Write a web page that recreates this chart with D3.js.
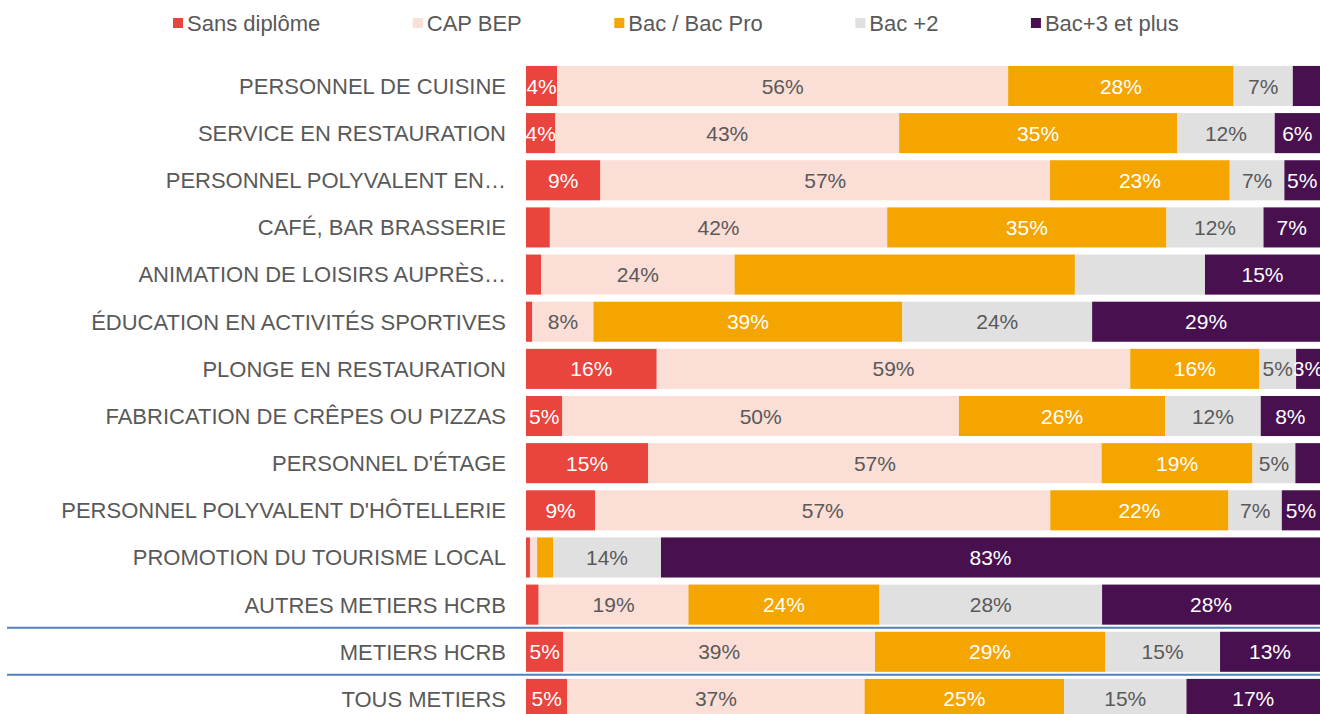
<!DOCTYPE html>
<html>
<head>
<meta charset="utf-8">
<script src="https://cdn.jsdelivr.net/npm/d3@7"></script>
<style>
  html,body{margin:0;padding:0;background:#fff;}
  svg{display:block;font-family:"Liberation Sans",Arial,sans-serif;}
</style>
</head>
<body>
<div id="chart"></div>
<script>
// 100% stacked bars — niveau de diplôme par métier
const categories = [
  'PERSONNEL DE CUISINE',
  'SERVICE EN RESTAURATION',
  'PERSONNEL POLYVALENT EN…',
  'CAFÉ, BAR BRASSERIE',
  'ANIMATION DE LOISIRS AUPRÈS…',
  'ÉDUCATION EN ACTIVITÉS SPORTIVES',
  'PLONGE EN RESTAURATION',
  'FABRICATION DE CRÊPES OU PIZZAS',
  "PERSONNEL D'ÉTAGE",
  "PERSONNEL POLYVALENT D'HÔTELLERIE",
  'PROMOTION DU TOURISME LOCAL',
  'AUTRES METIERS HCRB',
  'METIERS HCRB',
  'TOUS METIERS'
];
const seriesNames = ['Sans diplôme', 'CAP BEP', 'Bac / Bac Pro', 'Bac +2', 'Bac+3 et plus'];
const sansDiplome = [3.9, 3.7, 9.4, 3.0, 1.9, 0.8, 16.4, 4.6, 15.4, 8.7, 0.5, 1.6, 4.7, 5.2];
const capBep      = [56.4, 43.3, 56.8, 42.4, 24.4, 7.7, 59.4, 50.2, 57.1, 57.2, 0.9, 18.9, 39.3, 37.4];
const bacPro      = [28.2, 35.0, 22.7, 35.1, 42.9, 38.9, 16.2, 26.1, 19.0, 22.4, 2.0, 24.1, 29.0, 25.1];
const bac2        = [7.4, 12.3, 6.9, 12.2, 16.4, 23.9, 4.6, 12.1, 5.4, 6.7, 13.6, 28.1, 14.5, 15.4];
const bac3        = [3.4, 5.7, 4.5, 7.1, 14.5, 28.7, 3.0, 7.5, 3.1, 4.8, 83.0, 27.5, 12.6, 16.8];
// segments whose label is not shown [row, series]
const hiddenLabels = [[0,4],[3,0],[4,0],[4,2],[4,3],[5,0],[8,4],[10,0],[10,1],[10,2],[11,0]];
// separators drawn above these rows
const separatorsBefore = ['METIERS HCRB', 'TOUS METIERS'];

const colors = ['#E9443E', '#FBDED6', '#F5A500', '#E0E0E0', '#48104F'];
const labelColors = ['#fff', '#595959', '#fff', '#595959', '#fff'];

(function() {
  const W = 1320, H = 714;
  const m = {left:526, right:0};
  const cols = [sansDiplome, capBep, bacPro, bac2, bac3];
  const rows = categories.map((c,i)=>{
    const r = {cat:c};
    seriesNames.forEach((s,j)=>{ r[s] = cols[j][i]; });
    return r;
  });

  const stack = d3.stack().keys(seriesNames).offset(d3.stackOffsetExpand);
  const layers = stack(rows);

  const x = d3.scaleLinear().domain([0,1]).range([m.left, W-m.right]);
  const y = d3.scaleBand().domain(categories).range([62.4, 722.5]).paddingInner(0.15).paddingOuter(0.075);

  const svg = d3.select('#chart').append('svg').attr('width',W).attr('height',H).attr('viewBox',`0 0 ${W} ${H}`);

  const hidden = new Set(hiddenLabels.map(d=>d[0]+'_'+d[1]));

  // Bars
  layers.forEach((layer,si)=>{
    const g = svg.append('g');
    g.selectAll('rect').data(layer).join('rect')
      .attr('x',d=>x(d[0])).attr('width',d=>x(d[1])-x(d[0]))
      .attr('y',d=>y(d.data.cat)).attr('height',y.bandwidth())
      .attr('fill',colors[si]);
    g.selectAll('text').data(layer.map((d,i)=>({d,i}))
        .filter(o=>!hidden.has(o.i+'_'+si)))
      .join('text')
      .attr('x',o=>(x(o.d[0])+x(o.d[1]))/2)
      .attr('y',o=>y(o.d.data.cat)+y.bandwidth()/2)
      .attr('dy','0.36em').attr('text-anchor','middle')
      .style('font-size','21px').style('fill',labelColors[si])
      .text(o=>Math.round(o.d.data[seriesNames[si]])+'%');
  });

  // Category labels
  svg.append('g').selectAll('text').data(categories).join('text')
    .attr('x',m.left-20).attr('y',d=>y(d)+y.bandwidth()/2).attr('dy','0.36em')
    .attr('text-anchor','end').style('font-size','22px').style('fill','#595959')
    .text(d=>d);

  // Separators
  const gap = y.step()-y.bandwidth();
  separatorsBefore.forEach(c=>{
    const yy = y(c) - gap/2 - 0.5;
    svg.append('line').attr('x1',7).attr('x2',W).attr('y1',yy).attr('y2',yy)
      .attr('stroke','#4F81BD').attr('stroke-width',2);
  });

  // Legend
  const leg = svg.append('g').attr('transform','translate(173,0)');
  let lx = 0;
  seriesNames.forEach((s,i)=>{
    leg.append('rect').attr('x',lx).attr('y',18).attr('width',10).attr('height',10).attr('fill',colors[i]);
    const t = leg.append('text').attr('x',lx+14).attr('y',23).attr('dy','0.36em')
      .style('font-size','22px').style('fill','#595959').text(s);
    lx += 14 + t.node().getComputedTextLength() + 92.5;
  });
})();
</script>
</body>
</html>
